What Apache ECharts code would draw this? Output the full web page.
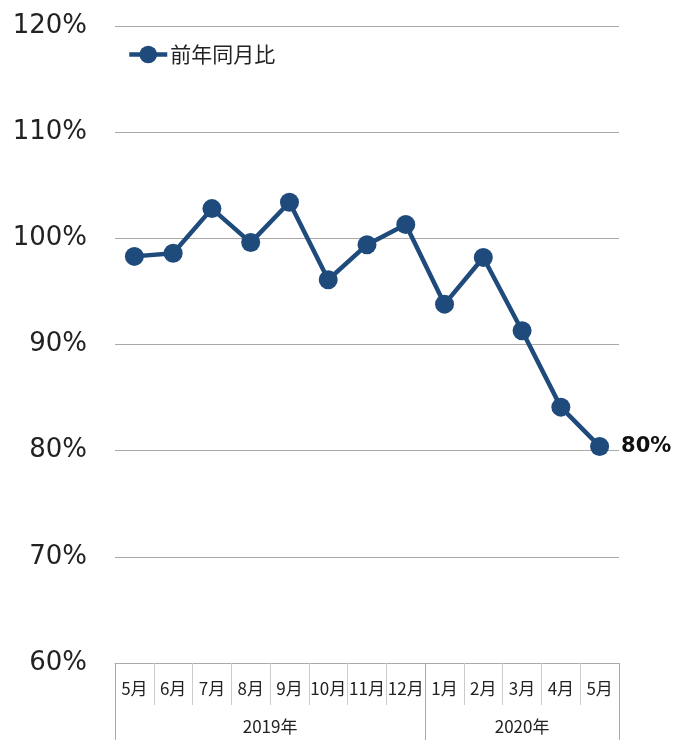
<!DOCTYPE html>
<html><head><meta charset="utf-8">
<script src="https://cdn.jsdelivr.net/npm/echarts@6/dist/echarts.min.js"></script>
<style>html,body{margin:0;padding:0;background:#fff}#c{width:680px;height:740px}</style>
</head><body><div id="c"></div>
<script>
const months = ['5月','6月','7月','8月','9月','10月','11月','12月','1月','2月','3月','4月','5月'];
const values = [98.3, 98.6, 102.8, 99.6, 103.4, 96.1, 99.4, 101.3, 93.8, 98.2, 91.3, 84.1, 80.4];
const years = ['2019年','2020年'];
const yearSpans = [8, 5];
const seriesName = '前年同月比';
const yTicks = [60, 70, 80, 90, 100, 110, 120];

const bounds = [0];
yearSpans.forEach(s => bounds.push(bounds[bounds.length-1] + s));
const yearCenters = yearSpans.map((s, i) => bounds[i] + s / 2);

const chart = echarts.init(document.getElementById('c'));
const jp = '"Noto Sans CJK JP", sans-serif';
const col = '#1f4a7c';
chart.setOption({
  animation: false,
  grid: { left: 115, right: 61, top: 26, bottom: 77 },
  legend: {
    left: 122, top: 39,
    itemWidth: 38, itemHeight: 22, itemGap: 4,
    lineStyle: { width: 4.5 },
    textStyle: { fontFamily: jp, fontSize: 21, color: '#222', padding: [0, 0, 0, -2] },
    data: [seriesName]
  },
  xAxis: [
    {
      type: 'category', data: months, boundaryGap: true, position: 'bottom',
      axisLine: { show: true, lineStyle: { color: '#aaa', width: 1 } },
      axisTick: { show: true, interval: 0, length: 42, lineStyle: { color: '#ccc' } },
      axisLabel: { interval: 0, margin: 17, fontFamily: jp, fontSize: 17, color: '#222' }
    },
    {
      type: 'value', min: 0, max: bounds[bounds.length-1], position: 'bottom', gridIndex: 0,
      axisLine: { show: false },
      splitLine: { show: false },
      axisTick: { show: true, customValues: bounds, length: 80, lineStyle: { color: '#aaa' } },
      axisLabel: {
        customValues: yearCenters, margin: 55, fontFamily: jp, fontSize: 17, color: '#222',
        formatter: v => { const i = yearCenters.indexOf(v); return i >= 0 ? years[i] : ''; }
      }
    }
  ],
  yAxis: {
    type: 'value', min: yTicks[0], max: yTicks[yTicks.length-1], interval: 10,
    axisLine: { show: false }, axisTick: { show: false },
    axisLabel: { formatter: '{value}%', margin: 28, fontFamily: 'DejaVu Sans', fontSize: 26, color: '#222' },
    splitLine: { lineStyle: { color: '#aaa', width: 1 } }
  },
  series: [{
    name: seriesName, type: 'line', xAxisIndex: 0, data: values.map((v, i) => i === values.length - 1 ? {
      value: v,
      label: { show: true, position: 'right', distance: 12, formatter: p => Math.round(p.value) + '%',
        fontFamily: 'DejaVu Sans', fontWeight: 'bold', fontSize: 21, color: '#111' }
    } : v),
    symbol: 'circle', symbolSize: 19,
    lineStyle: { color: col, width: 4.5 },
    itemStyle: { color: col }
  }]
});
</script></body></html>
